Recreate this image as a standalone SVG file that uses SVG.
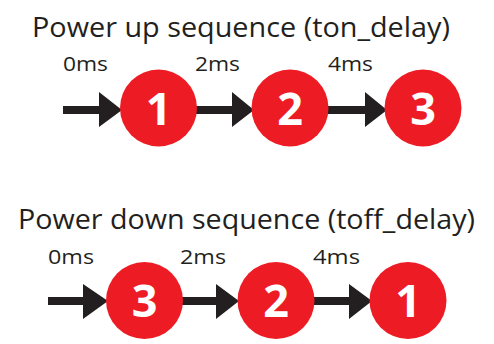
<svg xmlns="http://www.w3.org/2000/svg" width="494" height="344" viewBox="0 0 494 344">
<style>
.title{font-family:"Open Sans","Liberation Sans",sans-serif;font-size:28px;fill:#231f20}
.lbl{font-family:"Open Sans","Liberation Sans",sans-serif;font-size:20.5px;fill:#231f20}
.node circle{fill:#ed1c24}
.node text{font-family:"Open Sans","Liberation Sans",sans-serif;font-weight:bold;font-size:45px;fill:#fff;text-anchor:middle}
.conn line{stroke:#231f20;stroke-width:8}
.conn polygon{fill:#231f20}
</style>
<rect width="494" height="344" fill="#fff"/>
<text class="title" x="32" y="37" textLength="418" lengthAdjust="spacingAndGlyphs">Power up sequence (ton_delay)</text>
<text class="title" x="18" y="229" textLength="457" lengthAdjust="spacingAndGlyphs">Power down sequence (toff_delay)</text>
<text class="lbl" x="63" y="71" textLength="45" lengthAdjust="spacingAndGlyphs">0ms</text>
<text class="lbl" x="195" y="71" textLength="45" lengthAdjust="spacingAndGlyphs">2ms</text>
<text class="lbl" x="328" y="71" textLength="45" lengthAdjust="spacingAndGlyphs">4ms</text>
<text class="lbl" x="48" y="264" textLength="46" lengthAdjust="spacingAndGlyphs">0ms</text>
<text class="lbl" x="180" y="264" textLength="46" lengthAdjust="spacingAndGlyphs">2ms</text>
<text class="lbl" x="313" y="264" textLength="47" lengthAdjust="spacingAndGlyphs">4ms</text>
<g class="conn">
<line x1="63" y1="110" x2="101" y2="110"/><polygon points="99,92 122,110 99,127"/>
<line x1="196" y1="110" x2="234" y2="110"/><polygon points="232,92 254,110 232,127"/>
<line x1="327" y1="110" x2="367" y2="110"/><polygon points="365,92 387,110 365,127"/>
<line x1="48" y1="301" x2="85" y2="301"/><polygon points="83,284 108,301 83,319"/>
<line x1="182" y1="301" x2="218" y2="301"/><polygon points="216,284 239,301 216,319"/>
<line x1="313" y1="301" x2="351" y2="301"/><polygon points="349,284 372,301 349,319"/>
</g>
<g id="up1" class="node"><circle cx="158.5" cy="108" r="38.5"/><text x="158.5" y="125">1</text></g>
<g id="up2" class="node"><circle cx="290" cy="108" r="38.5"/><text x="290" y="125">2</text></g>
<g id="up3" class="node"><circle cx="423" cy="108" r="38.5"/><text x="423" y="125">3</text></g>
<g id="down3" class="node"><circle cx="144.5" cy="300.5" r="38.5"/><text x="144.5" y="317">3</text></g>
<g id="down2" class="node"><circle cx="276" cy="300.5" r="38.5"/><text x="276" y="317">2</text></g>
<g id="down1" class="node"><circle cx="408" cy="300.5" r="38.5"/><text x="408" y="317">1</text></g>
</svg>
